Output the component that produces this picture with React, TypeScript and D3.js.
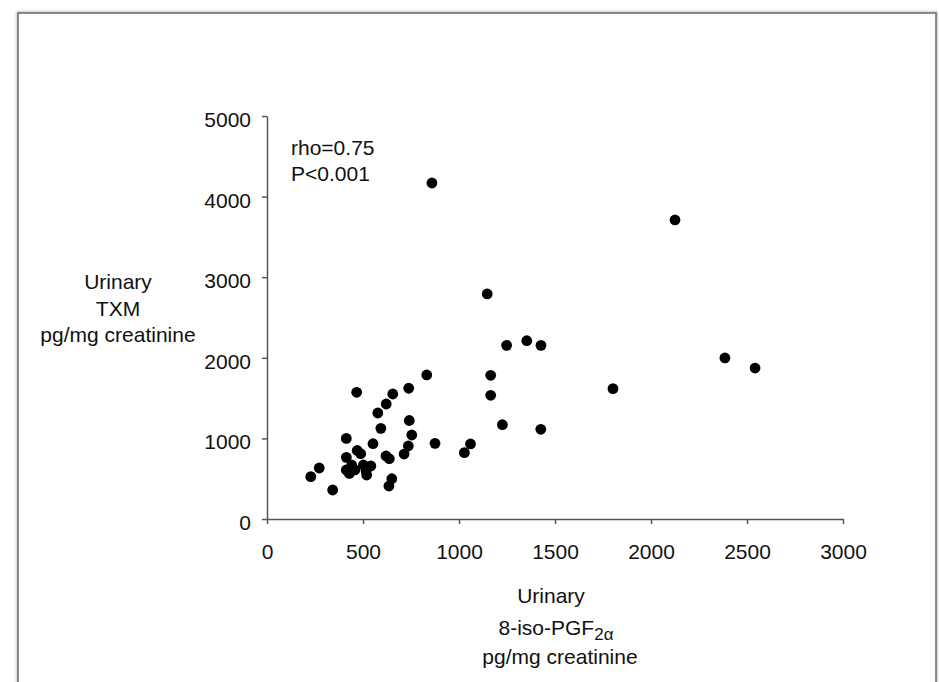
import { useEffect, useRef } from "react";
import * as d3 from "d3";

// urinary 8-iso-PGF2α (x) vs urinary TXM (y), pg/mg creatinine
const isoPgf = [
  228, 272, 342, 413, 467, 413, 413, 429, 441, 470, 488, 502, 516, 541, 552,
  577, 593, 620, 637, 621, 655, 650, 635, 714, 736, 741, 754, 738, 832, 875,
  1028, 1060, 1147, 1248, 1353, 1427, 1165, 1165, 1802, 1226, 1426, 2385,
  2542, 859, 2125, 458, 519,
];
const txm = [
  525, 633, 360, 1000, 1572, 765, 608, 565, 670, 850, 810, 670, 596, 658, 934,
  1315, 1125, 782, 748, 1427, 1551, 500, 409, 806, 906, 1222, 1042, 1622, 1787,
  939, 823, 931, 2792, 2155, 2212, 2155, 1783, 1535, 1617, 1170, 1113, 1998,
  1873, 4169, 3710, 610, 546,
];
const xTicks = [0, 500, 1000, 1500, 2000, 2500, 3000];
const yTicks = [0, 1000, 2000, 3000, 4000, 5000];
const statsText = ["rho=0.75", "P<0.001"];
const yLabel = ["Urinary", "TXM", "pg/mg creatinine"];

const W = 939;
const H = 682;
const FONT = "'Liberation Sans', Arial, Helvetica, sans-serif";

export default function App() {
  const ref = useRef<SVGSVGElement>(null);

  useEffect(() => {
    const svg = d3.select(ref.current);
    svg.selectAll("*").remove();

    const x = d3.scaleLinear().domain([0, 3000]).range([267, 843]);
    const y = d3.scaleLinear().domain([0, 5000]).range([519, 116]);

    // page frame
    const defs = svg.append("defs");
    const f = defs.append("filter").attr("id", "sh").attr("x", "-5%").attr("y", "-5%").attr("width", "110%").attr("height", "110%");
    f.append("feGaussianBlur").attr("stdDeviation", 1.5);
    svg
      .append("rect")
      .attr("x", 18)
      .attr("y", 13)
      .attr("width", 918)
      .attr("height", 720)
      .attr("fill", "none")
      .attr("stroke", "#bbb")
      .attr("stroke-width", 3)
      .attr("filter", "url(#sh)");
    svg
      .append("rect")
      .attr("x", 18)
      .attr("y", 13)
      .attr("width", 918)
      .attr("height", 720)
      .attr("fill", "#fff")
      .attr("stroke", "#6a6a6a")
      .attr("stroke-width", 1.5);

    // axes
    const xAxis = svg
      .append("g")
      .attr("transform", `translate(0, ${y(0)})`)
      .call(d3.axisBottom(x).tickValues(xTicks).tickSize(5).tickSizeOuter(0).tickPadding(20).tickFormat(d3.format("d")));
    const yAxis = svg
      .append("g")
      .attr("transform", `translate(${x(0)}, 0)`)
      .call(d3.axisLeft(y).tickValues(yTicks).tickSize(5).tickSizeOuter(0).tickPadding(11).tickFormat(d3.format("d")));

    for (const ax of [xAxis, yAxis]) {
      ax.select(".domain").attr("stroke", "#555").attr("stroke-width", 1.5);
      ax.selectAll(".tick line").attr("stroke", "#555").attr("stroke-width", 1.5);
      ax.selectAll(".tick text")
        .attr("fill", "#111")
        .style("font-family", FONT)
        .style("font-size", "21px");
    }
    yAxis.selectAll(".tick text").attr("dy", "0.5em");

    // points
    svg
      .append("g")
      .selectAll("circle")
      .data(isoPgf.map((v, i) => [v, txm[i]]))
      .enter()
      .append("circle")
      .attr("cx", (d) => x(d[0]))
      .attr("cy", (d) => y(d[1]))
      .attr("r", 5.4)
      .attr("fill", "#000");

    // correlation text
    statsText.forEach((t, i) => {
      svg
        .append("text")
        .attr("x", 291)
        .attr("y", 155 + i * 26)
        .attr("fill", "#111")
        .style("font-family", FONT)
        .style("font-size", "21px")
        .text(t);
    });

    // y label
    yLabel.forEach((t, i) => {
      svg
        .append("text")
        .attr("x", 118)
        .attr("y", 289 + i * 26.5)
        .attr("text-anchor", "middle")
        .attr("fill", "#111")
        .style("font-family", FONT)
        .style("font-size", "21px")
        .text(t);
    });

    // x label
    const xl = svg
      .append("g")
      .attr("fill", "#111")
      .style("font-family", FONT)
      .style("font-size", "21px")
      .attr("text-anchor", "middle");
    xl.append("text").attr("x", 551).attr("y", 603).text("Urinary");
    const mid = xl.append("text").attr("x", 556).attr("y", 635);
    mid.append("tspan").text("8-iso-PGF");
    mid.append("tspan").attr("dy", 5).style("font-size", "17px").text("2α");
    xl.append("text").attr("x", 560).attr("y", 664).text("pg/mg creatinine");
  }, []);

  return (
    <svg
      ref={ref}
      width={W}
      height={H}
      style={{ position: "absolute", left: 0, top: 0, background: "#fff" }}
    />
  );
}
